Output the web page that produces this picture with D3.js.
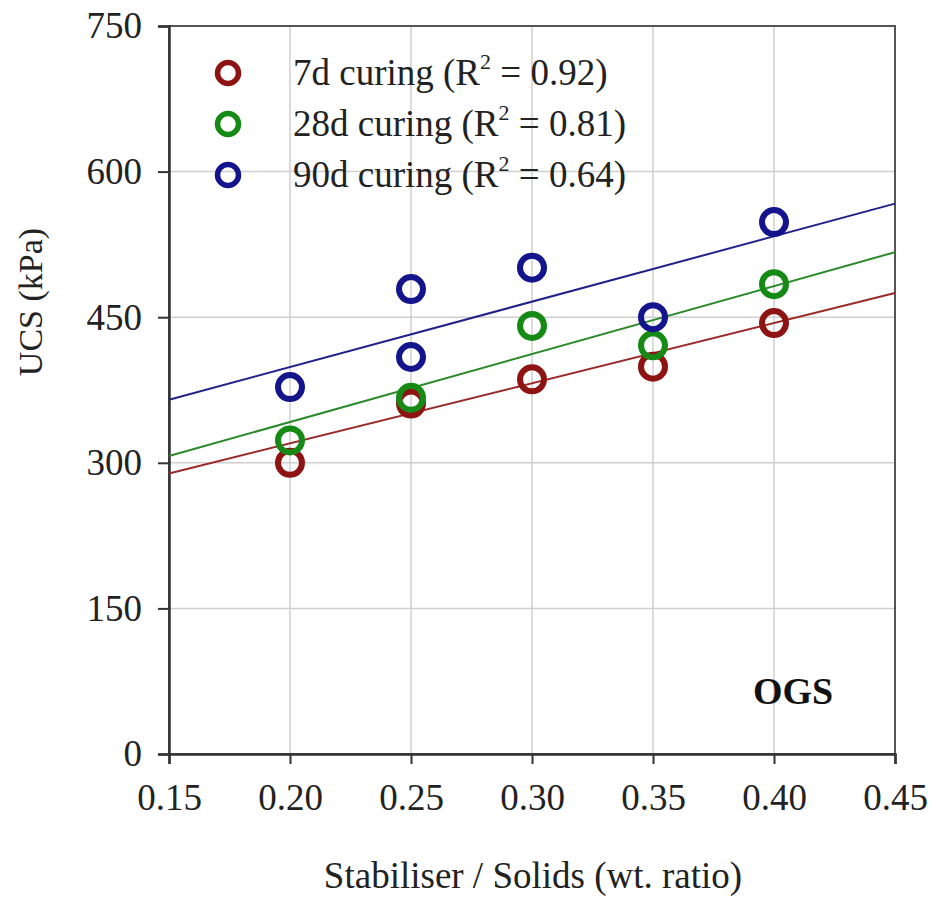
<!DOCTYPE html>
<html>
<head>
<meta charset="utf-8">
<script src="https://cdn.jsdelivr.net/npm/d3@7"></script>
<style>
  html, body { margin: 0; padding: 0; background: #fff; }
  svg { display: block; }
</style>
</head>
<body>
<svg id="chart" width="932" height="898"></svg>
<script>
// Stabiliser / solids ratio and measured UCS (kPa) per curing period
const xTicks = [0.15, 0.20, 0.25, 0.30, 0.35, 0.40, 0.45];
const yTicks = [0, 150, 300, 450, 600, 750];

const ratio7  = [0.20, 0.25, 0.30, 0.35, 0.40];
const ucs7    = [300, 361, 386, 399, 444];
const ratio28 = [0.20, 0.25, 0.30, 0.35, 0.40];
const ucs28   = [323, 367, 441, 421, 484];
const ratio90 = [0.20, 0.25, 0.25, 0.30, 0.35, 0.40];
const ucs90   = [378, 409, 479, 501, 450, 548];

// Linear trend lines: UCS at ratio 0.15 and 0.45
const trendX  = [0.15, 0.45];
const trend7  = [289, 475];
const trend28 = [307, 517];
const trend90 = [365, 567];

const seriesNames = ["7d curing (R", "28d curing (R", "90d curing (R"];
const seriesR2    = ["0.92", "0.81", "0.64"];
const seriesColors = ["#8e1414", "#158a15", "#14148c"];
const lineColors   = ["#9a2a2a", "#2a8a2a", "#22228a"];

const series = [
  { xs: ratio7,  ys: ucs7,  trend: trend7 },
  { xs: ratio28, ys: ucs28, trend: trend28 },
  { xs: ratio90, ys: ucs90, trend: trend90 }
];

const SERIF = "'Liberation Serif', 'Times New Roman', 'DejaVu Serif', serif";

const svg = d3.select("#chart");
const plot = { left: 169, right: 895, top: 26, bottom: 754 };

const x = d3.scaleLinear().domain([0.15, 0.45]).range([plot.left, plot.right]);
const y = d3.scaleLinear().domain([0, 750]).range([plot.bottom, plot.top]);

// grid
const grid = svg.append("g");
grid.selectAll("line.gx").data(xTicks.slice(1, -1)).join("line")
  .attr("x1", d => x(d)).attr("x2", d => x(d))
  .attr("y1", plot.top).attr("y2", plot.bottom)
  .attr("stroke", "#cfcfcf").attr("stroke-width", 1.5);
grid.selectAll("line.gy").data(yTicks.slice(1, -1)).join("line")
  .attr("x1", plot.left).attr("x2", plot.right)
  .attr("y1", d => y(d)).attr("y2", d => y(d))
  .attr("stroke", "#cfcfcf").attr("stroke-width", 1.5);

// frame
svg.append("rect")
  .attr("x", plot.left).attr("y", plot.top)
  .attr("width", plot.right - plot.left).attr("height", plot.bottom - plot.top)
  .attr("fill", "none").attr("stroke", "#555").attr("stroke-width", 2);

// axes
const xAxis = svg.append("g").attr("transform", `translate(0,${plot.bottom})`)
  .call(d3.axisBottom(x).tickValues(xTicks).tickFormat(d3.format(".2f")).tickSize(10).tickPadding(20));
const yAxis = svg.append("g").attr("transform", `translate(${plot.left},0)`)
  .call(d3.axisLeft(y).tickValues(yTicks).tickSize(11).tickPadding(16));
[xAxis, yAxis].forEach(a => {
  a.attr("font-family", null).attr("font-size", null);
  a.select(".domain").attr("stroke", "#333").attr("stroke-width", 2.5);
  a.selectAll(".tick line").attr("stroke", "#333").attr("stroke-width", 2);
  a.selectAll(".tick text")
    .style("font-family", SERIF)
    .style("font-size", "37px")
    .attr("fill", "#222");
});
xAxis.selectAll(".tick text").attr("dy", "0.71em");

// trend lines
const line = d3.line().x(d => x(d[0])).y(d => y(d[1]));
series.forEach((s, i) => {
  svg.append("path")
    .datum(trendX.map((t, j) => [t, s.trend[j]]))
    .attr("d", line)
    .attr("fill", "none")
    .attr("stroke", lineColors[i])
    .attr("stroke-width", 2);
});

// data points
series.forEach((s, i) => {
  svg.append("g").selectAll("circle")
    .data(s.xs.map((v, j) => [v, s.ys[j]]))
    .join("circle")
    .attr("cx", d => x(d[0])).attr("cy", d => y(d[1]))
    .attr("r", 12)
    .attr("fill", "none")
    .attr("stroke", seriesColors[i])
    .attr("stroke-width", 6);
});

// legend
const legend = svg.append("g");
const legendY = [73, 124, 175];
seriesNames.forEach((name, i) => {
  legend.append("circle")
    .attr("cx", 228).attr("cy", legendY[i]).attr("r", 10.5)
    .attr("fill", "none").attr("stroke", seriesColors[i]).attr("stroke-width", 5.5);
  const t = legend.append("text")
    .attr("x", 293).attr("y", legendY[i] + 12)
    .style("font-family", SERIF).style("font-size", "37px").attr("fill", "#222");
  t.append("tspan").text(name);
  t.append("tspan").style("font-size", "22px").attr("dy", -16).text("2");
  t.append("tspan").attr("dy", 16).text(" = " + seriesR2[i] + ")");
});

// panel label
svg.append("text")
  .attr("x", 793).attr("y", 704)
  .attr("text-anchor", "middle")
  .style("font-family", SERIF).style("font-size", "38px").style("font-weight", "bold")
  .attr("fill", "#111")
  .text("OGS");

// axis titles
svg.append("text")
  .attr("x", 533).attr("y", 888)
  .attr("text-anchor", "middle")
  .style("font-family", SERIF).style("font-size", "37px").attr("fill", "#222")
  .text("Stabiliser / Solids (wt. ratio)");
svg.append("text")
  .attr("transform", "translate(42,302) rotate(-90)")
  .attr("text-anchor", "middle")
  .style("font-family", SERIF).style("font-size", "34px").attr("fill", "#222")
  .text("UCS (kPa)");
</script>
</body>
</html>
